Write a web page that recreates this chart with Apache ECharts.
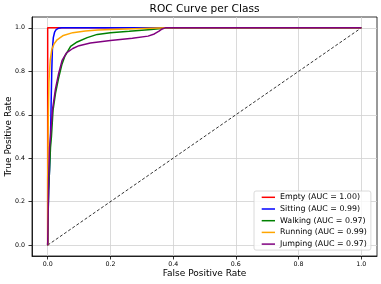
<!DOCTYPE html>
<html><head><meta charset="utf-8">
<script src="https://cdn.jsdelivr.net/npm/echarts@6/dist/echarts.min.js"></script>
<style>html,body{margin:0;padding:0;background:#fff}#c{width:381px;height:284px}</style>
</head><body><div id="c"></div>
<script>
// ---- data ----
const classNames = ['Empty', 'Sitting', 'Walking', 'Running', 'Jumping'];
const aucValues = ['1.00', '0.99', '0.97', '0.99', '0.97'];
const tickValues = [0, 0.2, 0.4, 0.6, 0.8, 1.0];

const emptyFpr = [0, 0, 1];
const emptyTpr = [0, 1, 1];

const sittingFpr = [0, 0.001, 0.003, 0.006, 0.009, 0.011, 0.013, 0.015, 0.018, 0.022, 0.027, 0.034, 0.045, 1];
const sittingTpr = [0, 0.12, 0.25, 0.35, 0.5, 0.65, 0.8, 0.9, 0.955, 0.98, 0.992, 0.998, 1, 1];

const walkingFpr = [0, 0.001, 0.003, 0.006, 0.009, 0.012, 0.017, 0.025, 0.035, 0.045, 0.055, 0.073, 0.094, 0.126, 0.158, 0.2, 0.26, 0.33, 0.37, 0.39, 1];
const walkingTpr = [0, 0.1, 0.25, 0.35, 0.45, 0.5, 0.62, 0.7, 0.77, 0.83, 0.87, 0.915, 0.935, 0.955, 0.97, 0.978, 0.984, 0.992, 0.998, 1, 1];

const runningFpr = [0, 0, 0.002, 0.004, 0.008, 0.013, 0.02, 0.03, 0.05, 0.08, 0.12, 0.16, 0.25, 0.35, 0.4, 1];
const runningTpr = [0, 0.3, 0.6, 0.75, 0.85, 0.9, 0.925, 0.945, 0.965, 0.978, 0.986, 0.99, 0.995, 0.999, 1, 1];

const jumpingFpr = [0, 0.001, 0.003, 0.006, 0.009, 0.015, 0.025, 0.035, 0.046, 0.06, 0.08, 0.1, 0.136, 0.2, 0.27, 0.32, 0.34, 0.355, 0.365, 0.375, 1];
const jumpingTpr = [0, 0.1, 0.3, 0.45, 0.5, 0.62, 0.72, 0.79, 0.85, 0.885, 0.905, 0.918, 0.93, 0.942, 0.952, 0.962, 0.972, 0.985, 0.995, 1, 1];

const chanceFpr = [0, 1];
const chanceTpr = [0, 1];

// ---- build ----
const curves = [
  [emptyFpr, emptyTpr, '#ff0000'],
  [sittingFpr, sittingTpr, '#0000ff'],
  [walkingFpr, walkingTpr, '#008000'],
  [runningFpr, runningTpr, '#ffa500'],
  [jumpingFpr, jumpingTpr, '#800080']
];
const zip = (a, b) => a.map((v, i) => [v, b[i]]);
const FONT = 'DejaVu Sans';
const aucMap = {};
classNames.forEach((n, i) => aucMap[n] = aucValues[i]);

const series = [{
  type: 'line', name: 'chance', data: zip(chanceFpr, chanceTpr), symbol: 'none', silent: true,
  lineStyle: { color: '#000', width: 0.8, type: [3, 2] }, z: 1
}];
curves.forEach((c, i) => {
  series.push({
    type: 'line', name: classNames[i], data: zip(c[0], c[1]), symbol: 'none',
    lineStyle: { color: c[2], width: 1.5 }, itemStyle: { color: c[2] }, z: 2 + i
  });
});

// ticks, labels and grid lines all follow tickValues (customValues)
const axisCommon = {
  type: 'value', min: -0.05, max: 1.05, interval: 0.05,
  axisLine: { show: true, onZero: false, lineStyle: { color: '#000', width: 0.8 } },
  axisTick: { show: true, length: 3.5, customValues: tickValues, lineStyle: { color: '#000', width: 0.8 } },
  axisLabel: { customValues: tickValues, fontFamily: FONT, fontSize: 6.3, color: '#000', formatter: v => v.toFixed(1) },
  splitLine: { show: true, showMinLine: true, showMaxLine: true, lineStyle: { color: '#d0d0d0', width: 0.8 } },
  minorTick: { show: false },
  minorSplitLine: { show: false },
  splitArea: { show: false }
};

const chart = echarts.init(document.getElementById('c'), null, { renderer: 'canvas' });
chart.setOption({
  animation: false,
  backgroundColor: '#fff',
  grid: { left: 32, right: 4, top: 17, bottom: 28, show: true, borderColor: '#000', borderWidth: 0.8 },
  xAxis: Object.assign({}, axisCommon, { axisLabel: Object.assign({}, axisCommon.axisLabel, { margin: 4.5, lineHeight: 7 }) }),
  yAxis: Object.assign({}, axisCommon, { axisLabel: Object.assign({}, axisCommon.axisLabel, { margin: 7 }) }),
  legend: {
    data: classNames, orient: 'vertical', left: 254, top: 191,
    padding: [2.3, 4, 2, 7.7], itemWidth: 13.3, itemHeight: 1.5, itemGap: 3.7, icon: 'rect',
    formatter: n => n + ' (AUC = ' + aucMap[n] + ')',
    textStyle: { fontFamily: FONT, fontSize: 7.9, lineHeight: 8, color: '#000' },
    borderColor: '#d0d0d0', borderWidth: 0.8, borderRadius: 2, backgroundColor: 'rgba(255,255,255,0.8)'
  },
  graphic: [
    { type: 'text', x: 204.5, y: 9, style: { text: 'ROC Curve per Class', font: '10.6px "DejaVu Sans"', fill: '#000', align: 'center', verticalAlign: 'middle' } },
    { type: 'text', x: 204.5, y: 273.7, style: { text: 'False Positive Rate', font: '9px "DejaVu Sans"', fill: '#000', align: 'center', verticalAlign: 'middle' } },
    { type: 'text', x: 8.5, y: 136.5, rotation: Math.PI / 2, style: { text: 'True Positive Rate', font: '9px "DejaVu Sans"', fill: '#000', align: 'center', verticalAlign: 'middle' } }
  ],
  series: series
});
</script></body></html>
